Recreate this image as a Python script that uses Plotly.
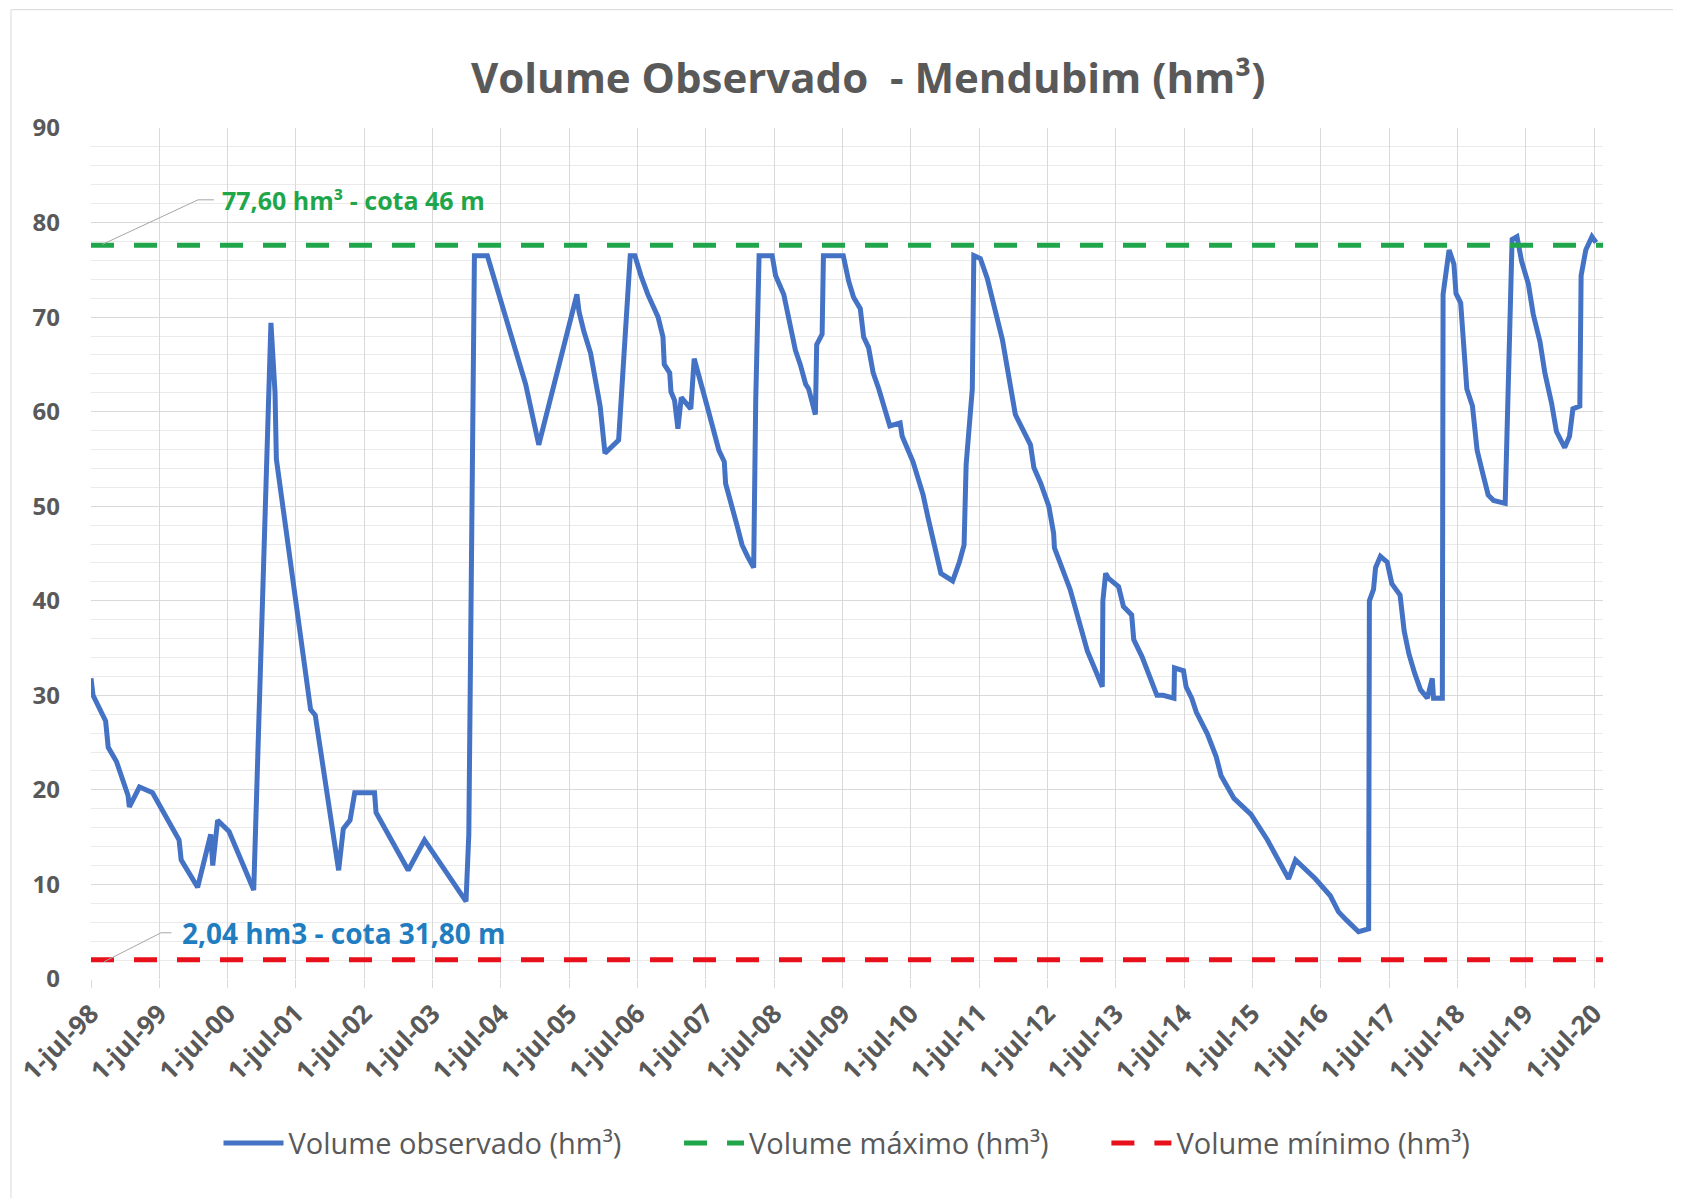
import plotly.graph_objects as go

dates = [
    "1998-07-01", "1998-07-12", "1998-09-17", "1998-10-01", "1998-11-14", "1999-01-15", "1999-01-22",
    "1999-03-17", "1999-05-26", "1999-07-08", "1999-10-15", "1999-10-26", "1999-12-09", "2000-01-22",
    "2000-04-01", "2000-04-12", "2000-05-08", "2000-07-08", "2000-11-17", "2001-02-17", "2001-03-11",
    "2001-03-18", "2001-09-17", "2001-10-12", "2002-02-14", "2002-03-11", "2002-04-16", "2002-05-11",
    "2002-08-25", "2002-09-02", "2003-02-21", "2003-05-19", "2003-12-27", "2004-01-11", "2004-02-10",
    "2004-04-19", "2004-05-07", "2004-06-02", "2004-06-20", "2004-07-26", "2004-08-21", "2004-09-16",
    "2004-10-15", "2004-11-10", "2005-01-19", "2005-08-11", "2005-08-22", "2005-09-17", "2005-10-23",
    "2005-11-18", "2005-12-13", "2006-01-08", "2006-03-22", "2006-05-23", "2006-06-17", "2006-07-19",
    "2006-08-25", "2006-10-19", "2006-11-14", "2006-11-21", "2006-12-20", "2006-12-27", "2007-01-15",
    "2007-02-02", "2007-02-20", "2007-04-12", "2007-04-30", "2007-07-08", "2007-09-09", "2007-10-08",
    "2007-10-15", "2007-12-16", "2008-01-11", "2008-02-09", "2008-03-13", "2008-03-24", "2008-04-11",
    "2008-06-20", "2008-07-08", "2008-08-21", "2008-09-16", "2008-10-22", "2008-11-17", "2008-12-16",
    "2009-01-01", "2009-02-06", "2009-02-13", "2009-03-14", "2009-03-21", "2009-07-05", "2009-08-03",
    "2009-08-29", "2009-10-04", "2009-10-22", "2009-11-17", "2009-12-12", "2010-01-11", "2010-03-11",
    "2010-05-05", "2010-05-16", "2010-07-13", "2010-09-05", "2010-10-01", "2010-11-03", "2010-12-09",
    "2011-02-10", "2011-03-18", "2011-04-12", "2011-04-23", "2011-05-26", "2011-06-03", "2011-07-08",
    "2011-08-14", "2011-11-03", "2012-01-11", "2012-04-01", "2012-04-19", "2012-05-26", "2012-07-08",
    "2012-08-03", "2012-08-07", "2012-10-30", "2013-01-30", "2013-04-20", "2013-04-23", "2013-05-08",
    "2013-05-22", "2013-07-16", "2013-08-11", "2013-09-24", "2013-10-05", "2013-11-18", "2014-02-06",
    "2014-03-11", "2014-05-08", "2014-05-11", "2014-06-28", "2014-07-12", "2014-08-11", "2014-09-05",
    "2014-11-03", "2014-12-20", "2015-01-15", "2015-03-25", "2015-06-24", "2015-09-20", "2016-01-11",
    "2016-02-17", "2016-04-01", "2016-06-02", "2016-08-21", "2016-10-04", "2016-11-17", "2017-01-19",
    "2017-03-14", "2017-03-18", "2017-04-09", "2017-04-20", "2017-05-16", "2017-06-21", "2017-07-16",
    "2017-08-29", "2017-09-20", "2017-10-15", "2017-11-14", "2017-12-16", "2018-01-22", "2018-02-17",
    "2018-02-24", "2018-04-12", "2018-04-16", "2018-05-18", "2018-06-13", "2018-06-24", "2018-07-19",
    "2018-08-03", "2018-08-21", "2018-09-20", "2018-10-15", "2018-11-10", "2018-12-13", "2019-01-11",
    "2019-03-14", "2019-04-20", "2019-05-16", "2019-06-10", "2019-07-16", "2019-08-11", "2019-09-16",
    "2019-10-12", "2019-11-17", "2019-12-13", "2020-01-26", "2020-02-21", "2020-03-10", "2020-04-16",
    "2020-04-23", "2020-05-18", "2020-06-20", "2020-07-12",
]
volume = [
    31.8, 30.0, 27.3, 24.5, 23.0, 19.4, 18.2,
    20.3, 19.7, 18.2, 14.7, 12.6, 11.2, 9.7,
    15.3, 12.0, 16.8, 15.6, 9.4, 69.4, 62.0,
    55.0, 28.5, 27.9, 11.5, 15.9, 16.8, 19.7,
    19.7, 17.6, 11.5, 14.7, 8.2, 15.3, 76.5,
    76.5, 75.3, 73.8, 72.4, 70.0, 68.2, 66.5,
    64.4, 62.9, 56.5, 72.4, 70.6, 68.5, 66.2,
    63.2, 60.6, 55.6, 57.0, 76.5, 76.5, 74.4,
    72.4, 70.0, 67.9, 65.0, 64.1, 62.1, 61.2,
    58.2, 61.5, 60.3, 65.6, 60.6, 55.9, 54.7,
    52.4, 47.9, 45.9, 44.7, 43.5, 61.2, 76.5,
    76.5, 74.4, 72.4, 70.0, 66.5, 65.0, 62.9,
    62.4, 59.7, 67.1, 68.2, 76.5, 76.5, 73.8,
    72.1, 70.9, 67.9, 66.8, 64.1, 62.4, 58.5,
    58.8, 57.4, 54.7, 51.2, 48.8, 45.9, 42.9,
    42.1, 44.1, 45.9, 54.4, 62.4, 76.5, 76.2,
    74.1, 67.6, 59.7, 56.5, 54.1, 52.4, 50.0,
    47.1, 45.6, 41.2, 34.7, 30.9, 40.0, 42.9,
    42.4, 41.5, 39.4, 38.5, 35.9, 34.1, 30.0,
    30.0, 29.7, 32.9, 32.6, 30.9, 29.7, 28.2,
    25.9, 23.5, 21.5, 19.1, 17.4, 14.7, 10.6,
    12.6, 11.8, 10.6, 8.8, 7.1, 6.2, 5.0,
    5.3, 40.0, 41.2, 43.5, 44.7, 44.1, 41.8,
    40.6, 36.8, 34.4, 32.4, 30.6, 29.7, 31.8,
    29.7, 29.7, 72.4, 77.1, 75.6, 72.5, 71.5,
    67.1, 62.4, 60.6, 55.9, 53.8, 51.2, 50.6,
    50.3, 78.2, 78.5, 75.9, 73.5, 70.3, 67.4,
    64.1, 60.9, 57.9, 56.2, 57.4, 60.3, 60.6,
    74.4, 77.1, 78.5, 77.9,
]

vol_max = 77.60
vol_min = 2.04
line_span = ["1998-07-01", "2020-08-18"]

tick_dates = [f"{y}-07-01" for y in range(1998, 2021)]
tick_labels = [f"1-jul-{y % 100:02d}" for y in range(1998, 2021)]

grey = "#595959"
font = "'Open Sans', Lato, sans-serif"
gap = "\u00a0" * 7

fig = go.Figure()
fig.add_trace(go.Scatter(
    x=dates, y=volume, mode="lines", name="Volume observado (hm³)" + gap,
    line=dict(color="#4472C4", width=5),
))
fig.add_trace(go.Scatter(
    x=line_span, y=[vol_max, vol_max], mode="lines", name="Volume máximo (hm³)" + gap,
    line=dict(color="#1FA64B", width=5, dash="23px,20px"),
))
fig.add_trace(go.Scatter(
    x=line_span, y=[vol_min, vol_min], mode="lines", name="Volume mínimo (hm³)",
    line=dict(color="#E8101A", width=5, dash="23px,20px"),
))

# leader lines for the two labels
fig.add_shape(type="path", xref="paper", yref="paper",
              path="M 0.0073 0.863 L 0.0708 0.9156 L 0.0813 0.9156",
              line=dict(color="#A6A6A6", width=1))
fig.add_shape(type="path", xref="paper", yref="paper",
              path="M 0.0086 0.0202 L 0.0463 0.0543 L 0.0532 0.0543",
              line=dict(color="#A6A6A6", width=1))
fig.add_annotation(xref="paper", yref="paper", x=0.085, y=0.9156, xanchor="left", yanchor="middle",
                   text="<b>77,60 hm³ - cota 46 m</b>", showarrow=False,
                   font=dict(color="#1FA64B", size=25, family=font))
fig.add_annotation(xref="paper", yref="paper", x=0.0589, y=0.0543, xanchor="left", yanchor="middle",
                   text="<b>2,04 hm3 - cota 31,80 m</b>", showarrow=False,
                   font=dict(color="#1F7DC0", size=28, family=font))

# chart border
fig.add_shape(type="rect", xref="paper", yref="paper", x0=-0.0529, y0=-0.4, x1=1.2, y1=1.139,
              line=dict(color="#D9D9D9", width=1), layer="below")

fig.update_layout(
    width=1673, height=1190,
    margin=dict(l=83, r=78, t=120, b=219),
    paper_bgcolor="white", plot_bgcolor="white",
    font=dict(family=font, color=grey),
    title=dict(text="<b>Volume Observado  - Mendubim (hm³)</b>", x=0.514, xref="paper",
               xanchor="center", y=0.941, yanchor="middle",
               font=dict(size=42, color=grey, family=font)),
    showlegend=True,
    legend=dict(orientation="h", x=0.5, xanchor="center", y=-0.193, yanchor="middle",
                font=dict(size=29, color=grey, family=font), itemwidth=60,
                tracegroupgap=0),
    xaxis=dict(
        type="date", range=line_span, automargin=False,
        tickmode="array", tickvals=tick_dates, ticktext=tick_labels,
        tickangle=-45, tickfont=dict(size=26, color=grey, family=font, weight="bold"),
        showgrid=True, gridcolor="#D9D9D9", gridwidth=1,
        ticks="outside", ticklen=8, tickcolor="#D9D9D9",
        showline=False, zeroline=False,
    ),
    yaxis=dict(
        range=[0, 90], dtick=10, tick0=0, automargin=False,
        tickfont=dict(size=24, color=grey, family=font, weight="bold"),
        showgrid=True, gridcolor="#D9D9D9", gridwidth=1,
        minor=dict(dtick=2, showgrid=True, gridcolor="#EAEAEA", gridwidth=1),
        ticklabelstandoff=30, zeroline=False, showline=False,
    ),
)

fig.write_html("out.html")
